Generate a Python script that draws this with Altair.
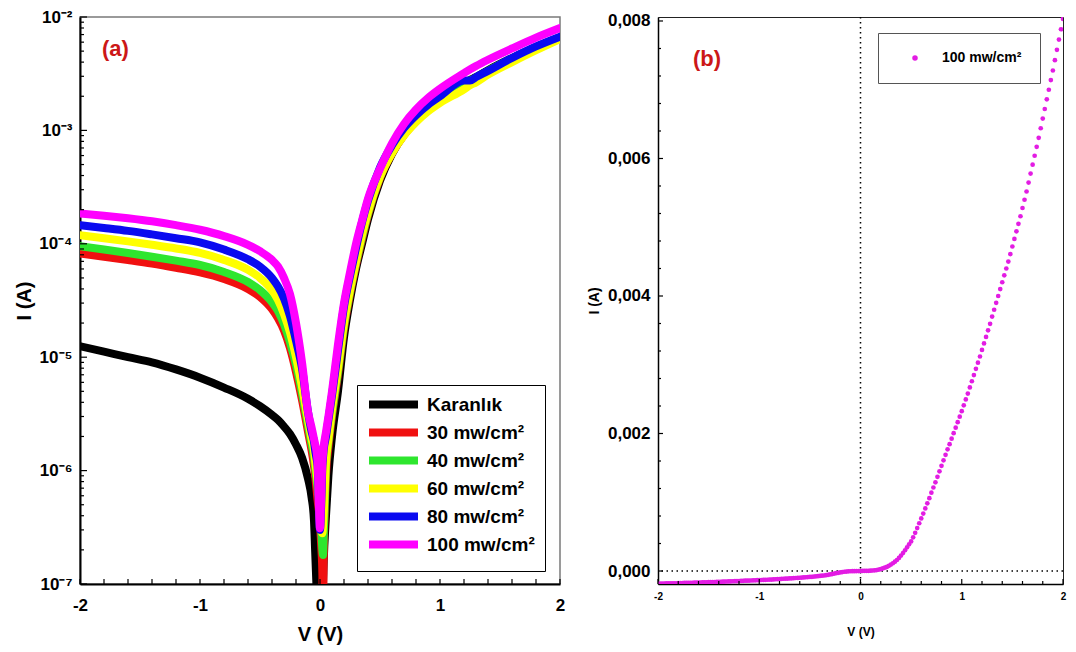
import json
import altair as alt
import pandas as pd

# ---------------- Panel (a): |I| versus V, log scale ----------------
V_A = [-2.0, -1.8, -1.6, -1.4, -1.2, -1.0, -0.8, -0.6, -0.5, -0.4, -0.35, -0.3,
       -0.25, -0.2, -0.15, -0.1, -0.07, -0.05, -0.04, -0.03, -0.02, 0.0, 0.01,
       0.02, 0.025, 0.03, 0.05, 0.07, 0.1, 0.15, 0.2, 0.25, 0.3, 0.35, 0.4, 0.5,
       0.6, 0.7, 0.8, 0.9, 1.0, 1.2, 1.25, 1.3, 1.4, 1.6, 1.8, 2.0]

I_DARK = [1.25e-5, 1.12e-5, 1.0e-5, 9.0e-6, 7.8e-6, 6.6e-6, 5.4e-6, 4.3e-6, 3.7e-6, 3.1e-6,
          2.8e-6, 2.45e-6, 2.1e-6, 1.7e-6, 1.3e-6, 8.5e-7, 5.8e-7, 3.6e-7, 1.9e-7, 1.0e-7,
          5e-8, 4e-8, 5e-8, 8e-8, 1.0e-7, 1.5e-7, 4e-7, 9e-7, 2.0e-6, 5.0e-6,
          1.5e-5, 3.2e-5, 6.0e-5, 1.0e-4, 1.65e-4, 3.6e-4, 6.2e-4, 9.2e-4, 1.23e-3, 1.55e-3,
          1.87e-3, 2.6e-3, 2.78e-3, 2.95e-3, 3.4e-3, 4.35e-3, 5.4e-3, 6.6e-3]
I_30 = [8.2e-5, 7.7e-5, 7.2e-5, 6.7e-5, 6.15e-5, 5.6e-5, 4.9e-5, 4.0e-5, 3.4e-5, 2.65e-5,
        2.2e-5, 1.72e-5, 1.2e-5, 7.4e-6, 4.2e-6, 2.2e-6, 1.5e-6, 1.1e-6, 9e-7, 7e-7,
        5.5e-7, 3.5e-7, 2.2e-7, 1.2e-7, 5e-8, 1.5e-7, 9e-7, 1.6e-6, 3.0e-6, 7.0e-6,
        1.8e-5, 3.6e-5, 6.5e-5, 1.1e-4, 1.8e-4, 3.8e-4, 6.3e-4, 9.1e-4, 1.2e-3, 1.52e-3,
        1.82e-3, 2.5e-3, 2.7e-3, 2.85e-3, 3.3e-3, 4.25e-3, 5.35e-3, 6.6e-3]
I_40 = [9.5e-5, 8.9e-5, 8.3e-5, 7.7e-5, 7.1e-5, 6.5e-5, 5.65e-5, 4.6e-5, 3.9e-5, 3.05e-5,
        2.55e-5, 1.95e-5, 1.35e-5, 8.5e-6, 4.8e-6, 2.5e-6, 1.7e-6, 1.3e-6, 1.05e-6, 8.5e-7,
        7e-7, 4.5e-7, 3e-7, 2.0e-7, 1.8e-7, 2.5e-7, 1.1e-6, 1.8e-6, 3.2e-6, 7.5e-6,
        1.9e-5, 3.8e-5, 6.8e-5, 1.15e-4, 1.85e-4, 3.9e-4, 6.5e-4, 9.3e-4, 1.23e-3, 1.55e-3,
        1.85e-3, 2.55e-3, 2.75e-3, 2.9e-3, 3.35e-3, 4.3e-3, 5.4e-3, 6.6e-3]
I_60 = [1.19e-4, 1.12e-4, 1.05e-4, 9.8e-5, 9.1e-5, 8.3e-5, 7.2e-5, 5.9e-5, 5.0e-5, 3.9e-5,
        3.2e-5, 2.4e-5, 1.65e-5, 1.0e-5, 5.5e-6, 2.8e-6, 1.9e-6, 1.5e-6, 1.2e-6, 1.0e-6,
        8e-7, 4.5e-7, 3.2e-7, 2.8e-7, 3.2e-7, 4e-7, 1.2e-6, 1.9e-6, 3.5e-6, 8e-6,
        2.0e-5, 3.9e-5, 7.0e-5, 1.2e-4, 1.9e-4, 3.9e-4, 6.3e-4, 9.0e-4, 1.18e-3, 1.47e-3,
        1.75e-3, 2.3e-3, 2.5e-3, 2.65e-3, 3.1e-3, 4.0e-3, 5.1e-3, 6.4e-3]
I_80 = [1.46e-4, 1.38e-4, 1.3e-4, 1.21e-4, 1.12e-4, 1.03e-4, 8.9e-5, 7.3e-5, 6.3e-5, 5.0e-5,
        4.2e-5, 3.3e-5, 2.3e-5, 1.4e-5, 8e-6, 3.3e-6, 2.2e-6, 1.8e-6, 1.5e-6, 1.3e-6,
        1.1e-6, 3.0e-7, 5e-7, 1.1e-6, 1.3e-6, 1.5e-6, 2.0e-6, 2.8e-6, 4.6e-6, 1.15e-5,
        2.8e-5, 5.2e-5, 9.2e-5, 1.55e-4, 2.4e-4, 4.7e-4, 7.4e-4, 1.05e-3, 1.36e-3, 1.68e-3,
        2.0e-3, 2.75e-3, 2.75e-3, 2.95e-3, 3.35e-3, 4.35e-3, 5.5e-3, 6.7e-3]
I_100 = [1.85e-4, 1.77e-4, 1.68e-4, 1.58e-4, 1.46e-4, 1.33e-4, 1.17e-4, 9.8e-5, 8.6e-5, 7.2e-5,
         6.3e-5, 5.0e-5, 3.6e-5, 2.0e-5, 9e-6, 3.3e-6, 2.4e-6, 1.9e-6, 1.7e-6, 1.5e-6,
         1.2e-6, 3.1e-7, 6e-7, 1.2e-6, 1.4e-6, 1.6e-6, 2.2e-6, 3.0e-6, 5e-6, 1.3e-5,
         3.0e-5, 5.6e-5, 1.0e-4, 1.6e-4, 2.5e-4, 4.6e-4, 7.7e-4, 1.14e-3, 1.53e-3, 1.93e-3,
         2.33e-3, 3.2e-3, 3.45e-3, 3.7e-3, 4.2e-3, 5.28e-3, 6.58e-3, 8.0e-3]

SERIES_NAMES = ["Karanlık", "30 mw/cm²", "40 mw/cm²", "60 mw/cm²", "80 mw/cm²", "100 mw/cm²"]
SERIES_COLORS = ["#000000", "#f01010", "#2ee62e", "#ffff00", "#0a0af0", "#ff00ff"]

A_X_MAJOR = [-2, -1, 0, 1, 2]
A_X_MINOR = [-1.8, -1.6, -1.4, -1.2, -0.8, -0.6, -0.4, -0.2, 0.2, 0.4, 0.6, 0.8,
             1.2, 1.4, 1.6, 1.8]
A_Y_MAJOR = [1e-7, 1e-6, 1e-5, 1e-4, 1e-3, 1e-2]
A_Y_LABELS = ["10⁻⁷", "10⁻⁶", "10⁻⁵", "10⁻⁴", "10⁻³", "10⁻²"]
A_Y_MINOR = [k * 10.0 ** e for e in range(-7, -2) for k in range(2, 10)]

# ---------------- Panel (b): I versus V, linear scale (100 mw/cm²) ----------------
V_B = [-2.00, -1.98, -1.96, -1.94, -1.92, -1.90, -1.88, -1.86, -1.84, -1.82,
       -1.80, -1.78, -1.76, -1.74, -1.72, -1.70, -1.68, -1.66, -1.64, -1.62,
       -1.60, -1.58, -1.56, -1.54, -1.52, -1.50, -1.48, -1.46, -1.44, -1.42,
       -1.40, -1.38, -1.36, -1.34, -1.32, -1.30, -1.28, -1.26, -1.24, -1.22,
       -1.20, -1.18, -1.16, -1.14, -1.12, -1.10, -1.08, -1.06, -1.04, -1.02,
       -1.00, -0.98, -0.96, -0.94, -0.92, -0.90, -0.88, -0.86, -0.84, -0.82,
       -0.80, -0.78, -0.76, -0.74, -0.72, -0.70, -0.68, -0.66, -0.64, -0.62,
       -0.60, -0.58, -0.56, -0.54, -0.52, -0.50, -0.48, -0.46, -0.44, -0.42,
       -0.40, -0.38, -0.36, -0.34, -0.32, -0.30, -0.28, -0.26, -0.24, -0.22,
       -0.20, -0.18, -0.16, -0.14, -0.12, -0.10, -0.08, -0.06, -0.04, -0.02,
       0.00,
       0.02, 0.04, 0.06, 0.08, 0.10, 0.12, 0.14, 0.16, 0.18, 0.20,
       0.22, 0.24, 0.26, 0.28, 0.30, 0.32, 0.34, 0.36, 0.38, 0.40,
       0.42, 0.44, 0.46, 0.48, 0.50, 0.52, 0.54, 0.56, 0.58, 0.60,
       0.62, 0.64, 0.66, 0.68, 0.70, 0.72, 0.74, 0.76, 0.78, 0.80,
       0.82, 0.84, 0.86, 0.88, 0.90, 0.92, 0.94, 0.96, 0.98, 1.00,
       1.02, 1.04, 1.06, 1.08, 1.10, 1.12, 1.14, 1.16, 1.18, 1.20,
       1.22, 1.24, 1.26, 1.28, 1.30, 1.32, 1.34, 1.36, 1.38, 1.40,
       1.42, 1.44, 1.46, 1.48, 1.50, 1.52, 1.54, 1.56, 1.58, 1.60,
       1.62, 1.64, 1.66, 1.68, 1.70, 1.72, 1.74, 1.76, 1.78, 1.80,
       1.82, 1.84, 1.86, 1.88, 1.90, 1.92, 1.94, 1.96, 1.98, 2.00]

# current in mA
I_B_MA = [-0.185, -0.184, -0.183, -0.182, -0.181, -0.181, -0.180, -0.179, -0.178, -0.178,
          -0.177, -0.176, -0.175, -0.174, -0.173, -0.173, -0.172, -0.171, -0.170, -0.169,
          -0.168, -0.167, -0.166, -0.165, -0.164, -0.163, -0.162, -0.161, -0.160, -0.159,
          -0.158, -0.157, -0.155, -0.154, -0.153, -0.152, -0.150, -0.149, -0.148, -0.146,
          -0.145, -0.144, -0.143, -0.141, -0.140, -0.139, -0.138, -0.136, -0.135, -0.134,
          -0.133, -0.131, -0.130, -0.128, -0.127, -0.125, -0.124, -0.122, -0.120, -0.119,
          -0.117, -0.115, -0.113, -0.111, -0.110, -0.108, -0.106, -0.104, -0.102, -0.100,
          -0.098, -0.096, -0.093, -0.091, -0.089, -0.086, -0.084, -0.081, -0.078, -0.075,
          -0.072, -0.068, -0.065, -0.061, -0.056, -0.050, -0.044, -0.038, -0.032, -0.026,
          -0.020, -0.015, -0.011, -0.008, -0.005, -0.0033, -0.0028, -0.0022, -0.0017, -0.0012,
          0.0,
          0.001, 0.002, 0.002, 0.003, 0.005, 0.007, 0.010, 0.014, 0.020, 0.028,
          0.037, 0.048, 0.060, 0.075, 0.093, 0.113, 0.136, 0.160, 0.190, 0.225,
          0.262, 0.302, 0.345, 0.388, 0.430, 0.490, 0.555, 0.625, 0.695, 0.765,
          0.835, 0.910, 0.985, 1.060, 1.140, 1.215, 1.290, 1.370, 1.450, 1.530,
          1.610, 1.690, 1.770, 1.845, 1.925, 2.005, 2.085, 2.165, 2.245, 2.325,
          2.410, 2.495, 2.580, 2.670, 2.760, 2.850, 2.940, 3.030, 3.120, 3.215,
          3.310, 3.405, 3.500, 3.595, 3.700, 3.800, 3.900, 4.000, 4.100, 4.200,
          4.300, 4.400, 4.500, 4.610, 4.720, 4.830, 4.940, 5.050, 5.160, 5.280,
          5.400, 5.520, 5.650, 5.780, 5.910, 6.040, 6.170, 6.300, 6.440, 6.580,
          6.720, 6.860, 7.000, 7.140, 7.280, 7.430, 7.580, 7.730, 7.880, 8.030]

B_SERIES = "100 mw/cm²"
B_COLOR = "#e31ce3"
B_X_MAJOR = [-2, -1, 0, 1, 2]
B_X_MINOR = [-1.8, -1.6, -1.4, -1.2, -0.8, -0.6, -0.4, -0.2, 0.2, 0.4, 0.6, 0.8,
             1.2, 1.4, 1.6, 1.8]
B_Y_MAJOR = [0.0, 0.002, 0.004, 0.006, 0.008]
B_Y_MINOR = [0.0004, 0.0008, 0.0012, 0.0016, 0.0024, 0.0028, 0.0032, 0.0036,
             0.0044, 0.0048, 0.0052, 0.0056, 0.0064, 0.0068, 0.0072, 0.0076]

FONT = "Liberation Sans"
A_W, A_H = 480, 567
B_W, B_H = 405, 567

# ---------------- build panel (a) ----------------
rows = []
for name, vals in zip(SERIES_NAMES, [I_DARK, I_30, I_40, I_60, I_80, I_100]):
    for v, i in zip(V_A, vals):
        rows.append({"V": v, "I": i, "series": name})
df_a = pd.DataFrame(rows)

xa = alt.Scale(domain=[-2, 2], nice=False, zero=False)
ya = alt.Scale(type="log", domain=[1e-7, 1e-2], nice=False)

x_axis_a = alt.Axis(values=A_X_MAJOR, labelExpr="'' + datum.value", ticks=False, grid=False,
                    domainColor="black", domainWidth=2, labelFontSize=17, labelFontWeight="bold",
                    labelColor="black", labelPadding=13, title="V (V)", titleFontSize=20,
                    titleFontWeight="bold", titleColor="black", titlePadding=11, labelFlush=False)
y_labels_js = json.dumps(A_Y_LABELS, ensure_ascii=False)
y_axis_a = alt.Axis(values=A_Y_MAJOR,
                    labelExpr=y_labels_js + "[round(log(datum.value) / LN10) + 7]",
                    ticks=False, grid=False, domainColor="black", domainWidth=2,
                    labelFontSize=17, labelFontWeight="bold", labelColor="black",
                    labelPadding=8, title="I (A)", titleFontSize=20, titleFontWeight="bold",
                    titleColor="black", titlePadding=4, labelFlush=False)

legend_a = alt.Legend(title=None, orient="none", legendX=277, legendY=368,
                      symbolType="M-4.9,0L4.9,0", symbolSize=100, symbolStrokeWidth=8,
                      symbolOffset=17, labelOffset=24, labelFontSize=19, labelFontWeight="bold",
                      labelColor="black", rowPadding=-5, padding=10, fillColor="white",
                      strokeColor="black", labelLimit=300, labelExpr="datum.label + '  '")
color_a = alt.Color("series:N", scale=alt.Scale(domain=SERIES_NAMES, range=SERIES_COLORS),
                    legend=legend_a)

layers_a = []
for name in SERIES_NAMES:
    layers_a.append(
        alt.Chart(df_a).transform_filter(alt.datum.series == name)
        .mark_line(strokeWidth=8, strokeCap="round", strokeJoin="round", clip=True,
                   interpolate="monotone")
        .encode(x=alt.X("V:Q", scale=xa, axis=x_axis_a),
                y=alt.Y("I:Q", scale=ya, axis=y_axis_a),
                color=color_a)
    )

tick_style = dict(color="black", strokeWidth=1.2)
ay_major = alt.Chart(pd.DataFrame({"t": A_Y_MAJOR})).mark_rule(**tick_style).encode(
    y=alt.Y("t:Q", scale=ya, axis=y_axis_a), x=alt.value(0), x2=alt.value(7))
ay_minor = alt.Chart(pd.DataFrame({"t": A_Y_MINOR})).mark_rule(**tick_style).encode(
    y=alt.Y("t:Q", scale=ya, axis=y_axis_a), x=alt.value(0), x2=alt.value(4))
ax_minor = alt.Chart(pd.DataFrame({"t": A_X_MINOR + A_X_MAJOR})).mark_rule(**tick_style).encode(
    x=alt.X("t:Q", scale=xa, axis=x_axis_a), y=alt.value(A_H), y2=alt.value(A_H - 5))

label_a = alt.Chart(pd.DataFrame({"txt": ["(a)"]})).mark_text(
    align="left", baseline="middle", font=FONT, fontSize=22, fontWeight="bold", color="#cc1717"
).encode(text="txt:N", x=alt.value(22), y=alt.value(32))

panel_a = alt.layer(*layers_a, ay_major, ay_minor, ax_minor, label_a).properties(
    width=A_W, height=A_H,
    view=alt.ViewBackground(stroke="#7a7a7a", strokeWidth=1.5))

# ---------------- build panel (b) ----------------
df_b = pd.DataFrame({"V": V_B, "I": [x / 1000.0 for x in I_B_MA], "series": B_SERIES})
xb = alt.Scale(domain=[-2, 2], nice=False, zero=False)
yb = alt.Scale(domain=[-0.000189, 0.008058], nice=False, zero=False)

x_axis_b = alt.Axis(values=B_X_MAJOR, labelExpr="'' + datum.value", ticks=False, grid=False,
                    domainColor="black", domainWidth=1.5, labelFontSize=10, labelFontWeight="bold",
                    labelColor="black", labelPadding=7, title="V (V)", titleFontSize=12,
                    titleFontWeight="bold", titleColor="black", titlePadding=25, labelFlush=False)
y_axis_b = alt.Axis(values=B_Y_MAJOR, labelExpr="replace(format(datum.value, '.3f'), '.', ',')",
                    ticks=False, grid=False, domainColor="black", domainWidth=1.5,
                    labelFontSize=17, labelFontWeight="bold", labelColor="black", labelPadding=8,
                    title="I (A)", titleFontSize=14, titleFontWeight="bold", titleColor="black",
                    titlePadding=6, labelFlush=False)

legend_b = alt.Legend(title=None, orient="none", legendX=220, legendY=16, symbolType="circle",
                      symbolSize=30, symbolOffset=12, labelOffset=20, labelFontSize=14,
                      labelFontWeight="bold", labelColor="black", padding=18, fillColor="white",
                      strokeColor="#555555", labelLimit=300)

dot_style = dict(color="black", strokeWidth=1.5, strokeDash=[1.5, 3.5])
vline = alt.Chart(pd.DataFrame({"V": [0.0]})).mark_rule(**dot_style).encode(
    x=alt.X("V:Q", scale=xb, axis=x_axis_b))
hline = alt.Chart(pd.DataFrame({"I": [0.0]})).mark_rule(**dot_style).encode(
    y=alt.Y("I:Q", scale=yb, axis=y_axis_b))

points = alt.Chart(df_b).mark_circle(size=22, opacity=1, clip=True).encode(
    x=alt.X("V:Q", scale=xb, axis=x_axis_b),
    y=alt.Y("I:Q", scale=yb, axis=y_axis_b),
    color=alt.Color("series:N", scale=alt.Scale(domain=[B_SERIES], range=[B_COLOR]),
                    legend=legend_b))

by_major = alt.Chart(pd.DataFrame({"t": B_Y_MAJOR})).mark_rule(**tick_style).encode(
    y=alt.Y("t:Q", scale=yb, axis=y_axis_b), x=alt.value(0), x2=alt.value(5))
by_minor = alt.Chart(pd.DataFrame({"t": B_Y_MINOR})).mark_rule(**tick_style).encode(
    y=alt.Y("t:Q", scale=yb, axis=y_axis_b), x=alt.value(0), x2=alt.value(3))
bx_major = alt.Chart(pd.DataFrame({"t": B_X_MAJOR})).mark_rule(**tick_style).encode(
    x=alt.X("t:Q", scale=xb, axis=x_axis_b), y=alt.value(B_H), y2=alt.value(B_H - 5))
bx_minor = alt.Chart(pd.DataFrame({"t": B_X_MINOR})).mark_rule(**tick_style).encode(
    x=alt.X("t:Q", scale=xb, axis=x_axis_b), y=alt.value(B_H), y2=alt.value(B_H - 3))

label_b = alt.Chart(pd.DataFrame({"txt": ["(b)"]})).mark_text(
    align="left", baseline="middle", font=FONT, fontSize=22, fontWeight="bold", color="#cc1717"
).encode(text="txt:N", x=alt.value(35), y=alt.value(42))

panel_b = alt.layer(vline, hline, points, by_major, by_minor, bx_major, bx_minor, label_b).properties(
    width=B_W, height=B_H,
    view=alt.ViewBackground(stroke="#222222", strokeWidth=1))

chart = (
    alt.hconcat(panel_a, panel_b, spacing=20)
    .resolve_scale(color="independent", x="independent", y="independent")
    .properties(padding={"left": 5, "top": -1, "right": 0, "bottom": 0}, background="white")
    .configure(font=FONT)
    .configure_legend(strokeWidth=1)
)

chart.save("out.html", embed_options={"renderer": "svg", "actions": False})
